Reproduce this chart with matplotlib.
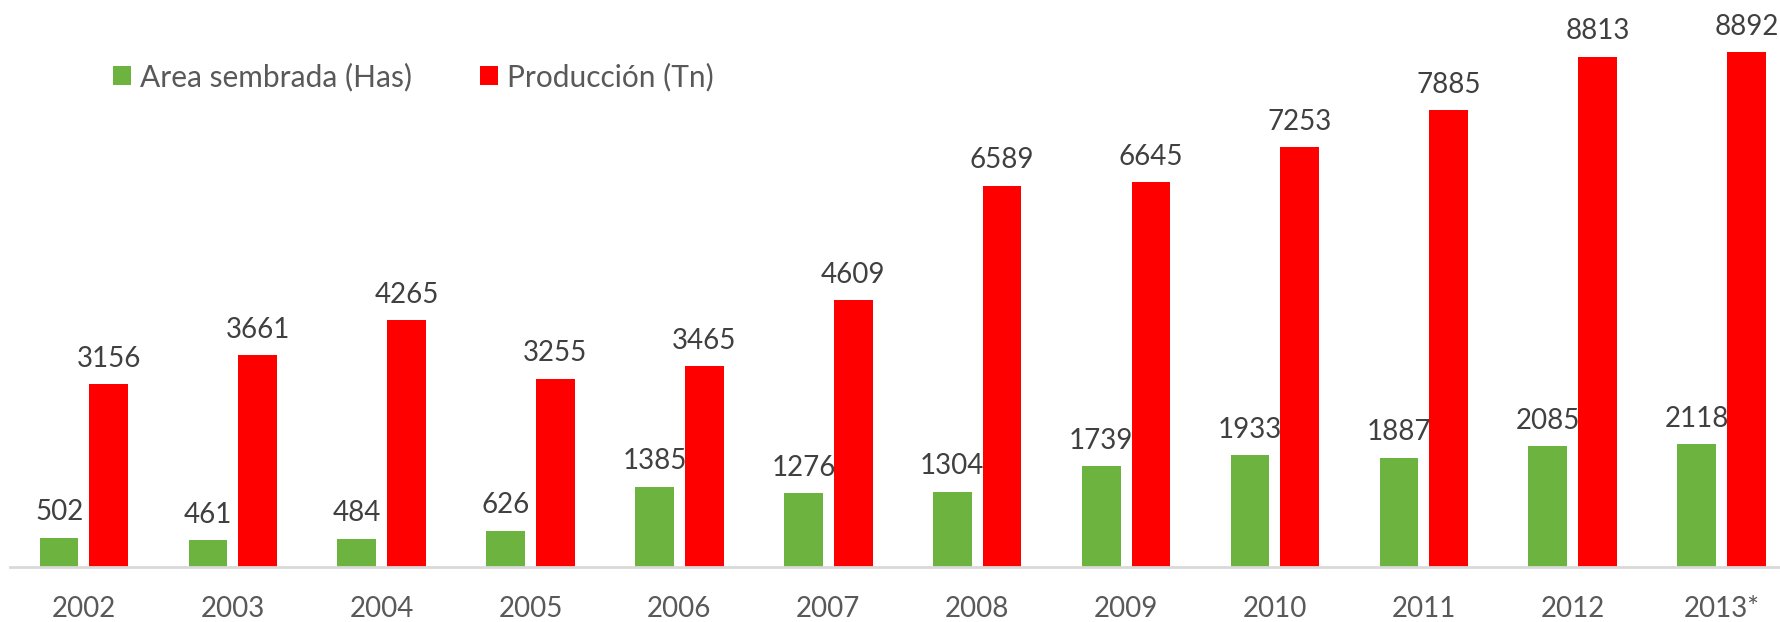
import numpy as np
from matplotlib import pyplot as plt

years = ["2002", "2003", "2004", "2005", "2006", "2007", "2008", "2009", "2010", "2011", "2012", "2013*"]
area = [502, 461, 484, 626, 1385, 1276, 1304, 1739, 1933, 1887, 2085, 2118]
produccion = [3156, 3661, 4265, 3255, 3465, 4609, 6589, 6645, 7253, 7885, 8813, 8892]

GREEN = "#6db33f"
RED = "#ff0000"

plt.rcParams["font.family"] = ["Lato", "DejaVu Sans"]


def main() -> None:
    fig = plt.figure(figsize=(17.81, 6.22), dpi=100)
    ax = fig.add_axes([10 / 1781, 55 / 622, 1 - 10 / 1781, 567 / 622])

    x = np.arange(len(years))
    width = 0.26
    off = 0.167

    b1 = ax.bar(x - off, area, width, color=GREEN, label="Area sembrada (Has)")
    b2 = ax.bar(x + off, produccion, width, color=RED, label="Producción (Tn)")

    for bars in (b1, b2):
        for bar in bars:
            h = bar.get_height()
            ax.annotate(
                f"{int(h)}",
                xy=(bar.get_x() + bar.get_width() / 2, h),
                xytext=(0, 9),
                textcoords="offset points",
                ha="center",
                va="bottom",
                fontsize=20,
                color="#404040",
            )

    ax.set_xlim(-0.497, 11.40)
    ax.set_ylim(0, 9793)
    ax.set_xticks(x)
    ax.set_xticklabels(years, fontsize=20, color="#595959")
    ax.tick_params(axis="x", length=0, pad=21)
    ax.set_yticks([])
    for s in ("top", "right", "left"):
        ax.spines[s].set_visible(False)
    ax.spines["bottom"].set_color("#d9d9d9")
    ax.spines["bottom"].set_linewidth(2)

    leg = fig.legend(
        loc="center left",
        bbox_to_anchor=(86 / 1781, 1 - 77 / 622),
        ncol=2,
        frameon=False,
        fontsize=21.5,
        handlelength=0.6,
        handleheight=0.6,
        handletextpad=0.3,
        columnspacing=2.3,
    )
    for t in leg.get_texts():
        t.set_color("#595959")

    plt.savefig("out.png", dpi=100)


if __name__ == "__main__":
    main()
